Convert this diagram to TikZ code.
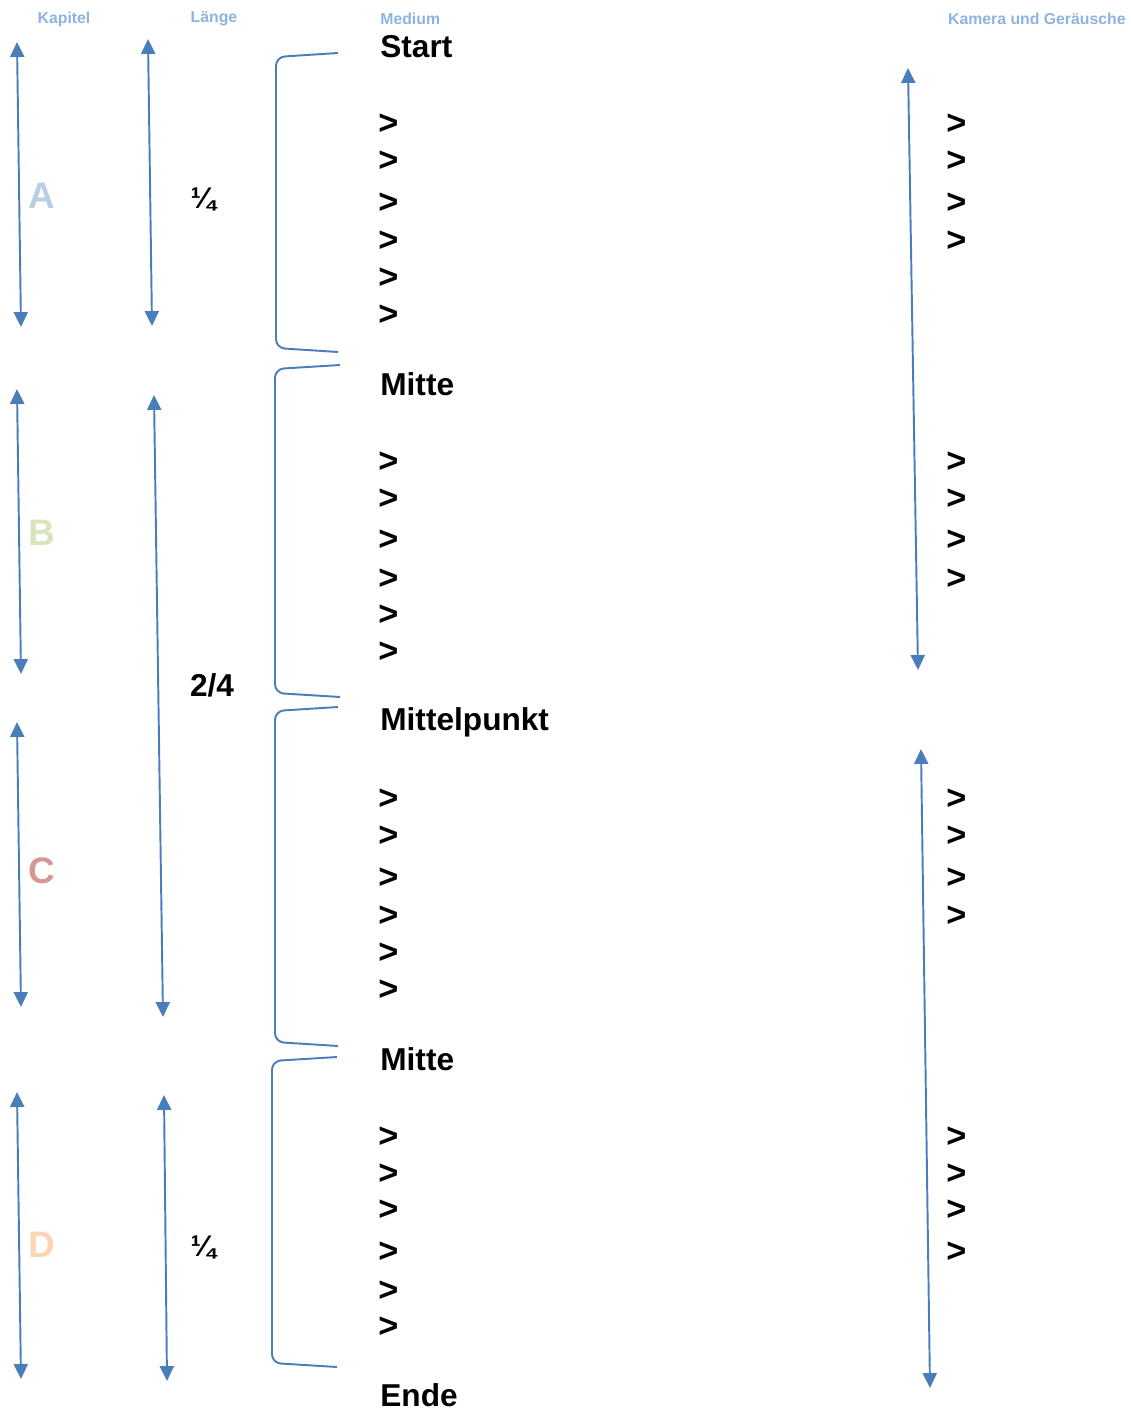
\documentclass[tikz,border=0pt]{standalone}
\usepackage{fontspec}
\setmainfont{Liberation Sans}
\usepackage{xcolor}
\usetikzlibrary{arrows.meta}

\definecolor{linie}{HTML}{4A7EBB}
\definecolor{kopf}{HTML}{8DB3E2}
\definecolor{kapA}{HTML}{B9CDE5}
\definecolor{kapB}{HTML}{D7E4BD}
\definecolor{kapC}{HTML}{DA9694}
\definecolor{kapD}{HTML}{FCD5B5}

\tikzset{
  pfeil/.style={draw=linie,line width=1.1pt,
    {Triangle[width=8pt,length=8.5pt]}-{Triangle[width=8pt,length=8.5pt]}},
  klammer/.style={draw=linie,line width=1.1pt,rounded corners=5pt},
  kopftext/.style={font=\fontsize{9}{10}\selectfont\bfseries,text=kopf,inner sep=0pt},
  kapitel/.style={font=\fontsize{21}{24}\selectfont\bfseries,inner sep=0pt},
  teil/.style={font=\fontsize{18}{21}\selectfont\bfseries,anchor=west,inner sep=0pt},
  punkt/.style={font=\fontsize{19.5}{22}\selectfont\bfseries,anchor=west,inner sep=0pt},
  bruch/.style={font=\fontsize{17}{20}\selectfont\bfseries,inner sep=0pt}
}

\begin{document}
\begin{tikzpicture}[x=0.02cm,y=-0.02cm]
            \useasboundingbox (0,0) rectangle (1130,1412);

            % Kopfzeile
            \node[kopftext] (hKapitel) at (64,19) {Kapitel};
            \node[kopftext] (hLaenge) at (214,19) {Länge};
            \node[kopftext,anchor=west] (hMedium) at (380,19) {Medium};
            \node[kopftext,anchor=east] (hKamera) at (1126,19) {Kamera und Geräusche};

            % Pfeile
            \foreach \name/\xa/\ya/\xb/\yb in {
                kA/17/42/21/327, kB/17/389/21/674, kC/17/722/21/1007, kD/17/1092/21/1379,
                lA/148/39/152/326, lBC/154/395/163/1017, lD/164/1095/167/1381,
                cAB/908/68/918/670, cCD/921/749/930/1388}{
                \coordinate (\name-o) at (\xa,\ya);
                \coordinate (\name-u) at (\xb,\yb);
                \draw[pfeil] (\name-o) -- (\name-u);
            }

            % Kapitel und Laenge
            \node[kapitel,text=kapA] (chA) at (42,196) {A};
            \node[kapitel,text=kapB] (chB) at (42,533) {B};
            \node[kapitel,text=kapC] (chC) at (42,871) {C};
            \node[kapitel,text=kapD] (chD) at (42,1245) {D};
            \node[bruch] (lenA) at (203,199) {¼};
            \node[bruch,font=\fontsize{18}{21}\selectfont\bfseries] (lenBC) at (212,685) {2/4};
            \node[bruch] (lenD) at (203,1247) {¼};

            % Klammern
            \foreach \x/\ya/\yb/\xe in {276/53/352/338, 275/365/697/340, 275/707/1046/338, 272/1057/1367/337}
                \draw[klammer] (\xe,\ya) -- (\x,\ya+4) -- (\x,\yb-4) -- (\xe,\yb);

            % Medium
            \node[teil] (tStart) at (380,47) {Start};
            \node[teil] (tMitte) at (380,384) {Mitte};
            \node[teil] (tMittelpunkt) at (380,722) {Mittelpunkt};
            \node[teil] (tMitte2) at (380,1059) {Mitte};
            \node[teil] (tEnde) at (380,1395) {Ende};
            \foreach \y [count=\i] in {122,159,201,239,276,313, 460,497,538,577,613,650,
                797,834,876,914,951,988, 1135,1172,1208,1250,1289,1325}
                \node[punkt] (m\i) at (378,\y+2) {>};

            % Kamera und Geraeusche
            \foreach \y [count=\i] in {122,159,201,239, 460,497,538,577,
                797,834,876,914, 1135,1172,1208,1250}
                \node[punkt] (k\i) at (946,\y+2) {>};
\end{tikzpicture}
\end{document}
